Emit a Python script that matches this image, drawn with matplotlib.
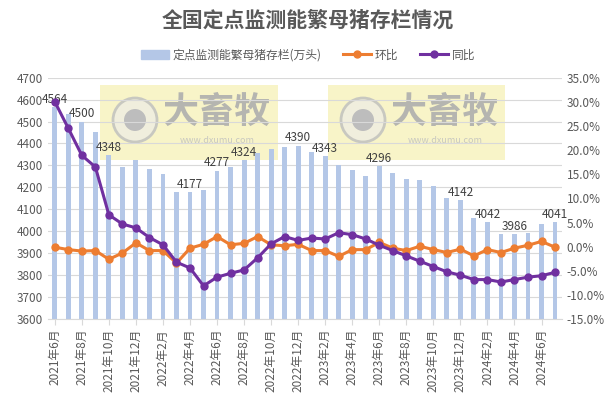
import matplotlib
matplotlib.use("Agg")
import matplotlib.pyplot as plt
from matplotlib.patches import Rectangle, Ellipse
from matplotlib.lines import Line2D
import numpy as np

plt.rcParams['font.family'] = ['Noto Sans CJK SC', 'DejaVu Sans']

months = []
for y in range(2021, 2025):
    for m in range(1, 13):
        if (y == 2021 and m < 6) or (y == 2024 and m > 7):
            continue
        months.append(f"{y}年{m}月")

stock = [4564, 4535, 4500, 4454, 4348, 4294, 4325, 4285, 4261, 4180, 4177, 4188,
         4277, 4294, 4324, 4355, 4375, 4382, 4390, 4362, 4343, 4302, 4279, 4252,
         4296, 4266, 4240, 4234, 4206, 4152, 4142, 4061, 4042, 3988, 3986, 3994,
         4033, 4041]
mom = [-0.1, -0.6, -0.9, -0.8, -2.6, -1.3, 0.8, -0.8, -0.8, -3.4, -0.3, 0.5,
       2.1, 0.4, 0.7, 2.1, 0.4, 0.2, 0.5, -0.8, -0.8, -2.0, -0.6, -0.6,
       0.9, -0.3, -0.8, 0.1, -0.6, -1.2, -0.5, -1.9, -0.6, -1.2, -0.3, 0.3,
       1.1, -0.1]
yoy = [30.0, 24.5, 18.9, 16.5, 6.6, 4.7, 3.9, 1.9, 0.4, -3.2, -4.4, -8.1,
       -6.3, -5.5, -4.8, -2.3, 0.6, 2.1, 1.3, 1.8, 1.6, 2.9, 2.5, 1.6,
       0.3, -0.8, -1.9, -3.0, -4.1, -5.2, -5.9, -6.8, -6.8, -7.3, -6.8, -6.3,
       -6.0, -5.3]
label_idx = [0, 2, 4, 10, 12, 14, 18, 20, 24, 30, 32, 34, 37]

bar_color = '#B4C7E7'
orange = '#ED7D31'
purple = '#7030A0'
txt = '#595959'

W, H = 616, 398
fig = plt.figure(figsize=(6.16, 3.98), dpi=100)
ax = fig.add_axes([0.078, 0.198, 0.834, 0.607])
ax.set_zorder(1)
x = np.arange(len(months))

# watermark boxes (background)
for (x0, x1) in [(100, 278), (328, 505)]:
    fig.patches.append(Rectangle((x0 / W, 1 - 160 / H), (x1 - x0) / W, 75 / H,
                                 transform=fig.transFigure, facecolor='#F8F4C8',
                                 edgecolor='none', zorder=-3))
    cxp, cyp, r = x0 + 35, 120, 22
    fig.patches.append(Ellipse((cxp / W, 1 - cyp / H), 2 * r / W, 2 * r / H,
                               transform=fig.transFigure, facecolor='#F0EEDD',
                               edgecolor='#C8C8C0', lw=2, zorder=-2))
    fig.patches.append(Ellipse((cxp / W, 1 - cyp / H), 2 * 11 / W, 2 * 11 / H,
                               transform=fig.transFigure, facecolor='#BDBDBD',
                               edgecolor='none', zorder=-2))
    fig.text((x0 + 117) / W, 1 - 112 / H, '大畜牧', fontsize=26, color='#B5B5B0',
             ha='center', va='center', fontweight='bold', zorder=-2)
    fig.text((x0 + 117) / W, 1 - 141 / H, 'www.dxumu.com', fontsize=6.5,
             color='#C8C8C0', ha='center', va='center', zorder=-2)

ax.set_facecolor('none')
ax.bar(x, stock, width=0.36, color=bar_color, zorder=2)
ax.set_ylim(3600, 4700)
ax.set_yticks(np.arange(3600, 4701, 100))
ax.set_xlim(-0.5, len(months) - 0.5)
ax.grid(axis='y', color='#D9D9D9', lw=0.8, zorder=0)
ax.set_axisbelow(True)
for i in label_idx:
    ax.text(x[i], stock[i] + 6, str(stock[i]), ha='center', va='bottom',
            fontsize=8.5, color='#404040', zorder=5)

ax2 = ax.twinx()
ax2.plot(x, mom, color=orange, lw=2.2, marker='o', ms=5, zorder=3)
ax2.plot(x, yoy, color=purple, lw=2.2, marker='o', ms=5, zorder=4)
ax2.set_ylim(-15, 35)
ax2.set_yticks(np.arange(-15, 36, 5))
ax2.set_yticklabels([f"{v:.1f}%" for v in np.arange(-15, 36, 5)])

for a in (ax, ax2):
    for s in ['top', 'right', 'left']:
        a.spines[s].set_visible(False)
    a.spines['bottom'].set_color('#D9D9D9')
    a.tick_params(axis='y', length=0, labelsize=8.5, labelcolor=txt)
ax2.spines['bottom'].set_visible(False)

ax.set_xticks(x[::2])
ax.set_xticklabels(months[::2], rotation=90, fontsize=8.5, color=txt)
ax.tick_params(axis='x', length=4, color='#D9D9D9', pad=3)

handles = [Rectangle((0, 0), 1, 1, color=bar_color),
           Line2D([], [], color=orange, lw=2.2, marker='o', ms=5),
           Line2D([], [], color=purple, lw=2.2, marker='o', ms=5)]
fig.legend(handles, ['定点监测能繁母猪存栏(万头)', '环比', '同比'], loc='center',
           bbox_to_anchor=(0.5, 1 - 55 / H), ncol=3, frameon=False, fontsize=8.5,
           handlelength=2.4, columnspacing=1.8, handletextpad=0.3,
           labelcolor=txt)

fig.text(0.5, 1 - 20 / H, '全国定点监测能繁母猪存栏情况', ha='center', va='center',
         fontsize=15, fontweight='bold', color=txt)

fig.savefig('out.png', dpi=100)
